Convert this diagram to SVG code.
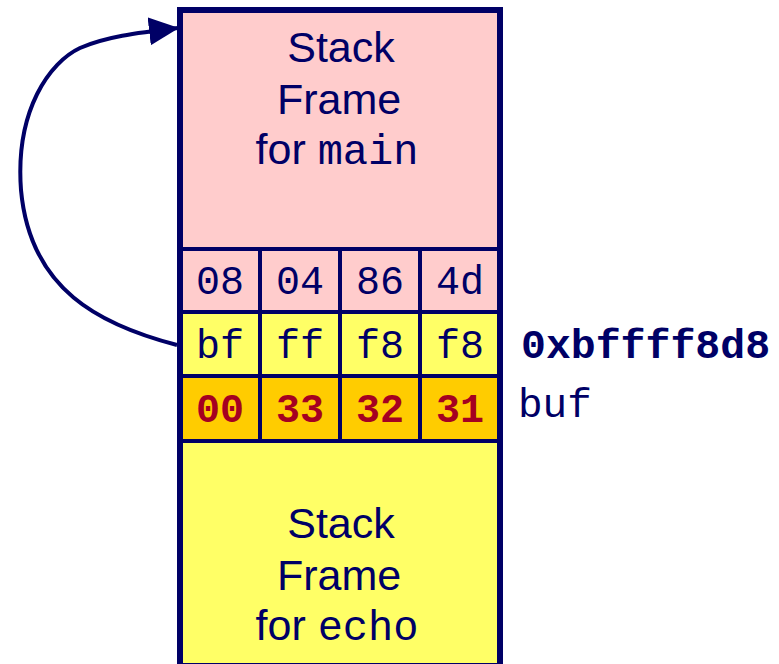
<svg xmlns="http://www.w3.org/2000/svg" width="779" height="664" viewBox="0 0 779 664">
<style>
.cell{stroke:#000066;stroke-width:4}
.pink{fill:#FFCCCC}
.yel{fill:#FFFF66}
.org{fill:#FFCC00}
.sans{font-family:"Liberation Sans",Arial,sans-serif;font-size:43px;fill:#000066}
.mono{font-family:"Liberation Mono","Courier New",monospace;font-size:40px;fill:#000066}
.big{font-size:42px}
.bold{font-family:"Liberation Mono","Courier New",monospace;font-size:40px;font-weight:bold}
.red{fill:#A50021}
.mid{text-anchor:middle}
</style>
<defs>
<marker id="ah" viewBox="0 0 30 28" refX="29" refY="14" markerWidth="30" markerHeight="28" markerUnits="userSpaceOnUse" orient="auto">
<path d="M0,0 L30,14 L0,28 z" fill="#000066"/>
</marker>
</defs>

<g id="main-frame">
<rect class="cell pink" x="180" y="10" width="320" height="239"/>
<text class="sans mid" x="341" y="62">Stack</text>
<text class="sans mid" x="339" y="114">Frame</text>
<text class="sans mid" x="337" y="164">for <tspan class="mono big">main</tspan></text>
</g>

<g id="row-ret">
<rect class="cell pink" x="180" y="249" width="80" height="63"/>
<rect class="cell pink" x="260" y="249" width="80" height="63"/>
<rect class="cell pink" x="340" y="249" width="80" height="63"/>
<rect class="cell pink" x="420" y="249" width="80" height="63"/>
<text class="mono mid" x="220" y="294">08</text>
<text class="mono mid" x="300" y="294">04</text>
<text class="mono mid" x="380" y="294">86</text>
<text class="mono mid" x="460" y="294">4d</text>
</g>

<g id="row-ebp">
<rect class="cell yel" x="180" y="312" width="80" height="64"/>
<rect class="cell yel" x="260" y="312" width="80" height="64"/>
<rect class="cell yel" x="340" y="312" width="80" height="64"/>
<rect class="cell yel" x="420" y="312" width="80" height="64"/>
<text class="mono mid" x="220" y="358">bf</text>
<text class="mono mid" x="300" y="358">ff</text>
<text class="mono mid" x="380" y="358">f8</text>
<text class="mono mid" x="460" y="358">f8</text>
</g>

<g id="row-buf">
<rect class="cell org" x="180" y="376" width="80" height="65"/>
<rect class="cell org" x="260" y="376" width="80" height="65"/>
<rect class="cell org" x="340" y="376" width="80" height="65"/>
<rect class="cell org" x="420" y="376" width="80" height="65"/>
<text class="bold red mid" x="220" y="422">00</text>
<text class="bold red mid" x="300" y="422">33</text>
<text class="bold red mid" x="380" y="422">32</text>
<text class="bold red mid" x="460" y="422">31</text>
</g>

<g id="echo-frame">
<rect class="cell yel" x="180" y="441" width="320" height="225"/>
<text class="sans mid" x="341" y="538">Stack</text>
<text class="sans mid" x="339" y="590">Frame</text>
<text class="sans mid" x="337" y="640">for <tspan class="mono big">echo</tspan></text>
</g>

<g id="outline">
<rect x="180" y="10" width="320" height="656" fill="none" stroke="#000066" stroke-width="6"/>
</g>

<g id="labels">
<text class="bold" x="521" y="358" fill="#000066" style="font-size:41.5px">0xbffff8d8</text>
<text class="mono" x="518" y="417" style="font-size:41px">buf</text>
</g>

<g id="connectors">
<path d="M177,345 C100,325 30,290 21,190 C15,110 50,62 80,48 C105,37 135,33 178,28" fill="none" stroke="#000066" stroke-width="4" marker-end="url(#ah)"/>
</g>
</svg>
